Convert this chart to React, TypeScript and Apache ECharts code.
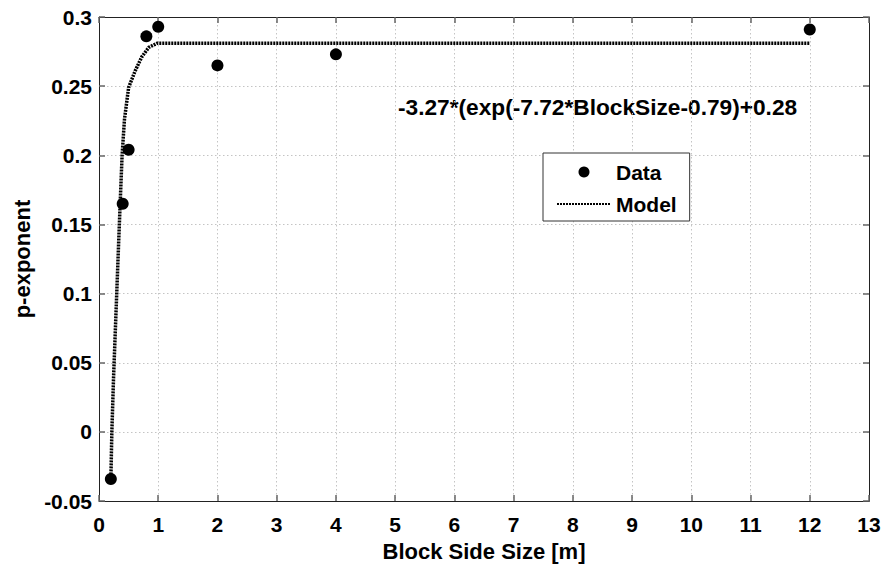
import React, { useEffect, useRef } from "react";
import * as echarts from "echarts";

// Measured data points
const dataX = [0.2, 0.4, 0.5, 0.8, 1, 2, 4, 12];
const dataY = [-0.034, 0.165, 0.204, 0.286, 0.293, 0.265, 0.273, 0.291];

// Model curve, points
const modelX = [0.2, 0.217, 0.245, 0.33, 0.357, 0.39, 0.43, 0.5, 0.61, 0.72, 0.84, 0.98, 12];
const modelY = [-0.035, 0, 0.0385, 0.135, 0.165, 0.2, 0.226, 0.249, 0.261, 0.271, 0.278, 0.281, 0.281];

const xTicks = { min: 0, max: 13, interval: 1 };
const yTicks = { min: -0.05, max: 0.3, interval: 0.05 };

const annotation = "-3.27*(exp(-7.72*BlockSize-0.79)+0.28";
const xTitle = "Block Side Size [m]";
const yTitle = "p-exponent";

const FONT = "'Liberation Sans', Arial, Helvetica, sans-serif";

export default function App() {
  const ref = useRef<HTMLDivElement>(null);
  useEffect(() => {
    if (!ref.current) return;
    const chart = echarts.init(ref.current, undefined, { renderer: "svg" });
    const gridLine = { show: true, lineStyle: { color: "#c4c4c4", type: [1.5, 2.5] as any, width: 1 } };
    const tick = { show: true, inside: true, length: 6, lineStyle: { color: "#666", width: 1.5 } };
    const axisLine = { show: true, onZero: false, lineStyle: { color: "#222", width: 1 } };
    const fmtY = (v: number) => String(parseFloat(v.toFixed(2)));
    chart.setOption({
      animation: false,
      backgroundColor: "#fff",
      textStyle: { fontFamily: FONT },
      grid: { left: 99, right: 17, top: 17, bottom: 64, containLabel: false },
      xAxis: [
        {
          type: "value",
          ...xTicks,
          position: "bottom",
          axisLine,
          axisTick: tick,
          splitLine: gridLine,
          axisLabel: { fontSize: 21, fontWeight: "bold", color: "#000", margin: 13, fontFamily: FONT },
          name: xTitle,
          nameLocation: "middle",
          nameGap: 34,
          nameTextStyle: { fontSize: 22, fontWeight: "bold", color: "#000", fontFamily: FONT },
        },
        {
          type: "value",
          ...xTicks,
          position: "top",
          axisLine,
          axisTick: tick,
          splitLine: { show: false },
          axisLabel: { show: false },
        },
      ],
      yAxis: [
        {
          type: "value",
          ...yTicks,
          position: "left",
          axisLine,
          axisTick: tick,
          splitLine: gridLine,
          axisLabel: { fontSize: 21, fontWeight: "bold", color: "#000", margin: 7, formatter: fmtY, fontFamily: FONT },
          name: yTitle,
          nameLocation: "middle",
          nameGap: 66,
          nameTextStyle: { fontSize: 22, fontWeight: "bold", color: "#000", fontFamily: FONT },
        },
        {
          type: "value",
          ...yTicks,
          position: "right",
          axisLine,
          axisTick: tick,
          splitLine: { show: false },
          axisLabel: { show: false },
        },
      ],
      legend: {
        orient: "vertical",
        left: 543,
        top: 153,
        padding: [8, 13, 6, 13],
        itemWidth: 54,
        itemHeight: 11,
        itemGap: 10,
        borderColor: "#333",
        borderWidth: 1,
        backgroundColor: "#fff",
        textStyle: { fontSize: 21, fontWeight: "bold", color: "#000", lineHeight: 22, fontFamily: FONT },
        data: [
          { name: "Data" },
          { name: "Model", itemStyle: { opacity: 0 } },
        ],
      },
      graphic: [
        {
          type: "text",
          x: 398,
          y: 107,
          style: {
            text: annotation,
            font: `bold 22.7px ${FONT}`,
            fill: "#000",
            verticalAlign: "middle",
            align: "left",
          },
        },
      ],
      series: [
        {
          name: "Model",
          type: "line",
          xAxisIndex: 0,
          yAxisIndex: 0,
          symbol: "none",
          data: modelX.map((x, i) => [x, modelY[i]]),
          lineStyle: { color: "#000", width: 3.5, type: [2, 1] as any },
          itemStyle: { color: "#000" },
          z: 3,
        },
        {
          name: "Data",
          type: "scatter",
          xAxisIndex: 0,
          yAxisIndex: 0,
          symbol: "circle",
          symbolSize: 12,
          data: dataX.map((x, i) => [x, dataY[i]]),
          itemStyle: { color: "#000", opacity: 1 },
          z: 4,
        },
      ],
    });
    return () => chart.dispose();
  }, []);
  return <div ref={ref} style={{ position: "fixed", left: 0, top: 0, width: 886, height: 567 }} />;
}
